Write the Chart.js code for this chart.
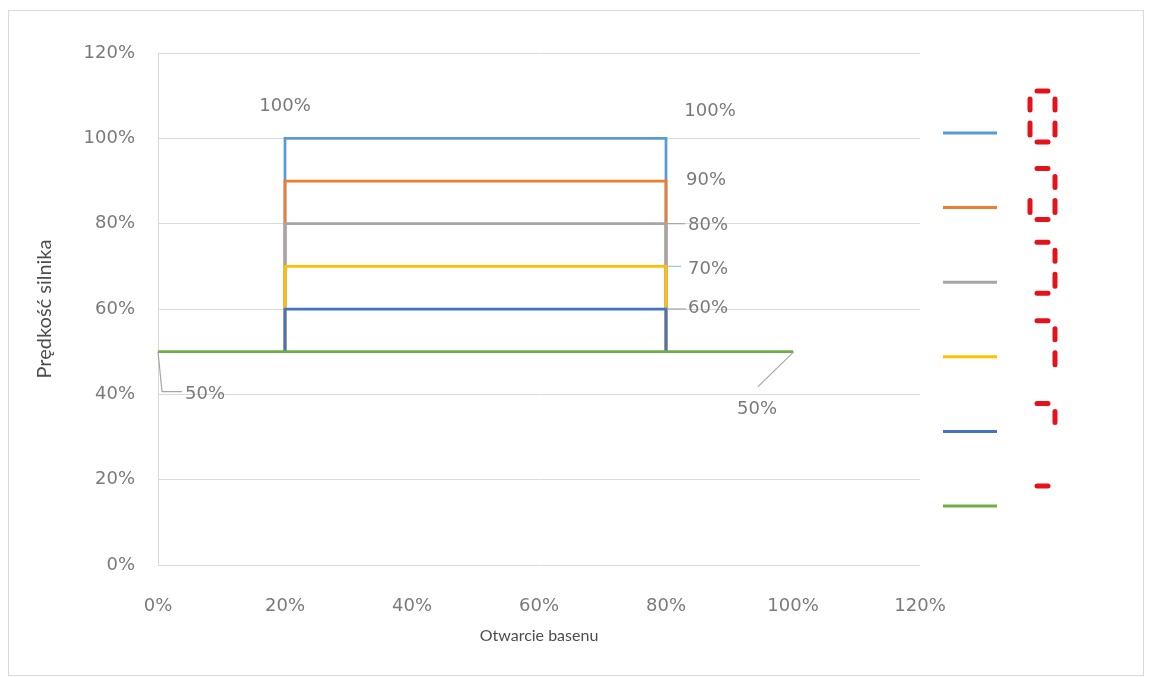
<!DOCTYPE html>
<html><head><meta charset="utf-8">
<script src="https://cdn.jsdelivr.net/npm/chart.js@4/dist/chart.umd.min.js"></script>
<style>
html,body{margin:0;padding:0;background:#fff;}
#wrap{position:relative;width:1152px;height:677px;overflow:hidden;}
#frame{position:absolute;left:8px;top:10px;width:1134px;height:664px;border:1px solid #d9d9d9;pointer-events:none;}
canvas{display:block;}
</style></head><body>
<div id="wrap"><canvas id="c" width="1152" height="677"></canvas><div id="frame"></div></div>
<script>
// ---- data ----
const seriesNames = ['100%', '90%', '80%', '70%', '60%', '50%'];
const rectX = [20, 20, 80, 80];
const speed100 = [50, 100, 100, 50];
const speed90 = [50, 90, 90, 50];
const speed80 = [50, 80, 80, 50];
const speed70 = [50, 70, 70, 50];
const speed60 = [50, 60, 60, 50];
const baseX = [0, 100];
const speed50 = [50, 50];
const xTickValues = [0, 20, 40, 60, 80, 100, 120];
const yTickValues = [0, 20, 40, 60, 80, 100, 120];
const xTitle = 'Otwarcie basenu';
const yTitle = 'Prędkość silnika';
// seven-segment legend glyph segments for each series
const legendGlyphs = [
  ['a','b','c','d','e','f'],
  ['a','b','c','d','e'],
  ['a','b','c','d'],
  ['a','b','c'],
  ['a','b'],
  ['a']
];

// ---- styles ----
const colors = ['#5B9BD5', '#ED7D31', '#A5A5A5', '#FFC000', '#4472C4', '#70AD47'];
const tickFont = {family: 'DejaVu Sans', size: 18};
const tickColor = '#7a7a7a';
const glyphTop = [-42, -39, -40, -36, -28, -20];
const labelStyle = [
  {ds:0, i:1, dx:0,   dy:-32},
  {ds:0, i:2, dx:44,  dy:-27},
  {ds:1, i:2, dx:40,  dy:-1},
  {ds:2, i:2, dx:42,  dy:2,  leader:[[1,0],[19,0]]},
  {ds:3, i:2, dx:42,  dy:3,  leader:[[1,0],[15,0]], leaderColor:'#9dc3e6'},
  {ds:4, i:2, dx:42,  dy:-1, leader:[[1,0],[20,0]]},
  {ds:5, i:0, dx:47,  dy:43, leader:[[0,0],[4,40],[24,40]]},
  {ds:5, i:1, dx:-36, dy:58, leader:[[1,0],[-35,35]]}
];

const toPts = (xs, ys) => xs.map((x, k) => ({x: x, y: ys[k]}));
const seriesData = [
  toPts(rectX, speed100), toPts(rectX, speed90), toPts(rectX, speed80),
  toPts(rectX, speed70), toPts(rectX, speed60), toPts(baseX, speed50)
];

const labelsPlugin = {
  id: 'pointLabels',
  afterDatasetsDraw(chart) {
    const ctx = chart.ctx;
    ctx.save();
    labelStyle.forEach(s => {
      const pt = chart.getDatasetMeta(s.ds).data[s.i];
      const v = seriesData[s.ds][s.i].y;
      if (s.leader) {
        ctx.beginPath();
        ctx.strokeStyle = s.leaderColor || '#a6a6a6';
        ctx.lineWidth = 1.2;
        s.leader.forEach((p, k) => {
          if (k === 0) ctx.moveTo(pt.x + p[0], pt.y + p[1]);
          else ctx.lineTo(pt.x + p[0], pt.y + p[1]);
        });
        ctx.stroke();
      }
      ctx.fillStyle = tickColor;
      ctx.font = tickFont.size + 'px "' + tickFont.family + '"';
      ctx.textAlign = 'center';
      ctx.textBaseline = 'middle';
      ctx.fillText(v + '%', pt.x + s.dx, pt.y + s.dy);
    });
    ctx.restore();
  }
};

const legendPlugin = {
  id: 'glyphLegend',
  afterDraw(chart) {
    const ctx = chart.ctx;
    const a = chart.chartArea;
    ctx.save();
    seriesNames.forEach((name, k) => {
      const ly = a.top + 80 + k * 74.6;
      const lx = a.right + 23;
      ctx.beginPath();
      ctx.strokeStyle = colors[k];
      ctx.lineWidth = 3;
      ctx.lineCap = 'butt';
      ctx.moveTo(lx, ly);
      ctx.lineTo(lx + 54, ly);
      ctx.stroke();
      const gx = a.right + 110, gy = ly + glyphTop[k];
      const seg = {
        a: [[gx+7, gy], [gx+18, gy]],
        b: [[gx+25, gy+8], [gx+25, gy+19]],
        c: [[gx+25, gy+32], [gx+25, gy+44]],
        d: [[gx+7, gy+51], [gx+18, gy+51]],
        e: [[gx, gy+32], [gx, gy+44]],
        f: [[gx, gy+8], [gx, gy+19]]
      };
      ctx.strokeStyle = '#e3121b';
      ctx.lineWidth = 5;
      ctx.lineCap = 'round';
      legendGlyphs[k].forEach(s => {
        ctx.beginPath();
        ctx.moveTo(seg[s][0][0], seg[s][0][1]);
        ctx.lineTo(seg[s][1][0], seg[s][1][1]);
        ctx.stroke();
      });
    });
    ctx.restore();
  }
};

new Chart(document.getElementById('c'), {
  type: 'scatter',
  data: {
    datasets: seriesData.map((d, k) => ({
      label: seriesNames[k],
      data: d,
      showLine: true,
      borderColor: colors[k],
      backgroundColor: colors[k],
      borderWidth: 2.75,
      pointRadius: 0,
      pointHoverRadius: 0,
      tension: 0,
      borderJoinStyle: 'miter',
      order: k === 5 ? 0 : 6 - k
    }))
  },
  options: {
    responsive: false,
    animation: false,
    events: [],
    layout: {padding: {left: 31, right: 232, top: 53, bottom: 28}},
    plugins: {legend: {display: false}, tooltip: {enabled: false}},
    scales: {
      x: {
        type: 'linear', min: 0, max: 120,
        afterBuildTicks: s => { s.ticks = xTickValues.map(v => ({value: v})); },
        afterFit: s => { s.height = 84; },
        ticks: {callback: v => v + '%', font: tickFont, color: tickColor, padding: 31, maxRotation: 0},
        grid: {display: false, drawTicks: false},
        border: {display: false},
        title: {display: true, text: xTitle, color: '#4d4d4d', font: {family: 'Lato', size: 16}, padding: {top: 4, bottom: 4}}
      },
      y: {
        type: 'linear', min: 0, max: 120,
        afterBuildTicks: s => { s.ticks = yTickValues.map(v => ({value: v})); },
        afterFit: s => { s.width = 127; },
        ticks: {callback: v => v + '%', font: tickFont, color: tickColor, padding: 23},
        grid: {color: '#d9d9d9', lineWidth: 1, drawTicks: false},
        border: {display: true, color: '#d9d9d9', width: 1},
        title: {display: true, text: yTitle, color: '#4d4d4d', font: {family: 'Lato', size: 20}, padding: {top: 2, bottom: 4}}
      }
    }
  },
  plugins: [labelsPlugin, legendPlugin]
});
</script>
</body></html>
